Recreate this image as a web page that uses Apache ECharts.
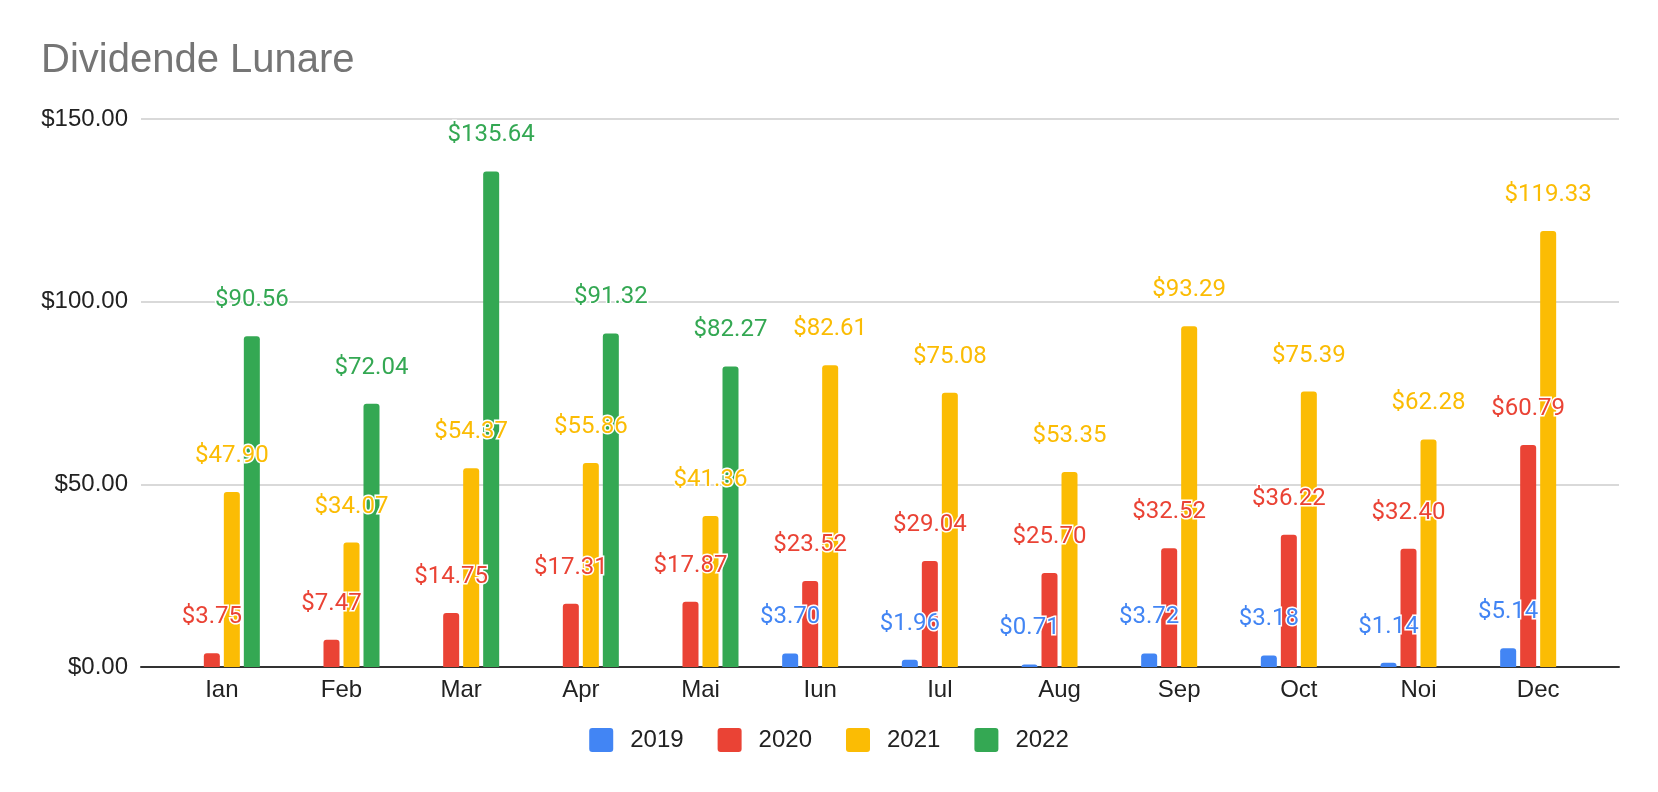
<!DOCTYPE html>
<html>
<head>
<meta charset="utf-8">
<title>Dividende Lunare</title>
<script src="https://cdn.jsdelivr.net/npm/echarts@6/dist/echarts.min.js"></script>
<style>
  html, body { margin: 0; padding: 0; background: #fff; }
  #chart { width: 1658px; height: 792px; }
</style>
</head>
<body>
<div id="chart"></div>
<script>
// luni si valori
var months = ['Ian', 'Feb', 'Mar', 'Apr', 'Mai', 'Iun', 'Iul', 'Aug', 'Sep', 'Oct', 'Noi', 'Dec'];
var years = ['2019', '2020', '2021', '2022'];
var colors = ['#4285F4', '#EA4335', '#FBBC04', '#34A853'];

var v2019 = [null, null, null, null, null, 3.70, 1.96, 0.71, 3.72, 3.18, 1.14, 5.14];
var v2020 = [3.75, 7.47, 14.75, 17.31, 17.87, 23.52, 29.04, 25.70, 32.52, 36.22, 32.40, 60.79];
var v2021 = [47.90, 34.07, 54.37, 55.86, 41.36, 82.61, 75.08, 53.35, 93.29, 75.39, 62.28, 119.33];
var v2022 = [90.56, 72.04, 135.64, 91.32, 82.27, null, null, null, null, null, null, null];

var yTicks = [0, 50, 100, 150];

var myChart = echarts.init(document.getElementById('chart'));

function money(v) {
	return '$' + Number(v).toFixed(2);
}

function makeSeries(name, data, color) {
	return {
		name: name,
		type: 'bar',
		xAxisIndex: 1,
		yAxisIndex: 1,
		data: data,
		barWidth: 16,
		barGap: '25%',
		itemStyle: { color: color, borderRadius: [3, 3, 0, 0] },
		label: {
			show: true,
			position: 'top',
			distance: 24,
			color: color,
			fontFamily: 'Roboto',
			fontSize: 24,
			textBorderColor: '#fff',
			textBorderWidth: 3,
			formatter: function (p) { return money(p.value); }
		}
	};
}

var options = {
	animation: false,
	title: {
		text: 'Dividende Lunare',
		left: 36,
		top: 36,
		textStyle: { color: '#757575', fontSize: 40, fontWeight: 'normal', fontFamily: 'Liberation Sans' }
	},
	legend: {
		data: years,
		bottom: 35,
		left: 'center',
		itemWidth: 24,
		itemHeight: 24,
		itemGap: 34,
		icon: 'path://M3,0 L21,0 Q24,0 24,3 L24,21 Q24,24 21,24 L3,24 Q0,24 0,21 L0,3 Q0,0 3,0 Z',
		textStyle: { color: '#222', fontSize: 24, fontFamily: 'Liberation Sans', padding: [0, 0, 0, 12] }
	},
	grid: [
		// linii de grila si axa
		{ left: 141, right: 39, top: 119, bottom: 125 },
		// barele
		{ left: 162, right: 60, top: 119, bottom: 125 }
	],
	xAxis: [
		{
			gridIndex: 0,
			type: 'value',
			min: 0,
			max: 1,
			axisLine: { show: true, lineStyle: { color: '#333', width: 2 } },
			axisTick: { show: false },
			axisLabel: { show: false },
			splitLine: { show: false }
		},
		{
			gridIndex: 1,
			type: 'category',
			data: months,
			axisLine: { show: false },
			axisTick: { show: false },
			axisLabel: { color: '#222', fontSize: 24, fontFamily: 'Liberation Sans', margin: 11 }
		}
	],
	yAxis: [
		{
			gridIndex: 0,
			type: 'value',
			min: yTicks[0],
			max: yTicks[yTicks.length - 1],
			interval: 50,
			axisLine: { show: false },
			axisTick: { show: false },
			axisLabel: { color: '#222', fontSize: 24, fontFamily: 'Liberation Sans', margin: 13, formatter: money },
			splitLine: { lineStyle: { color: '#cccccc', width: 1.5 } }
		},
		{
			gridIndex: 1,
			type: 'value',
			min: yTicks[0],
			max: yTicks[yTicks.length - 1],
			interval: 50,
			show: false,
			splitLine: { show: false }
		}
	],
	series: [
		makeSeries(years[0], v2019, colors[0]),
		makeSeries(years[1], v2020, colors[1]),
		makeSeries(years[2], v2021, colors[2]),
		makeSeries(years[3], v2022, colors[3])
	]
};
myChart.setOption(options);
</script>
</body>
</html>
